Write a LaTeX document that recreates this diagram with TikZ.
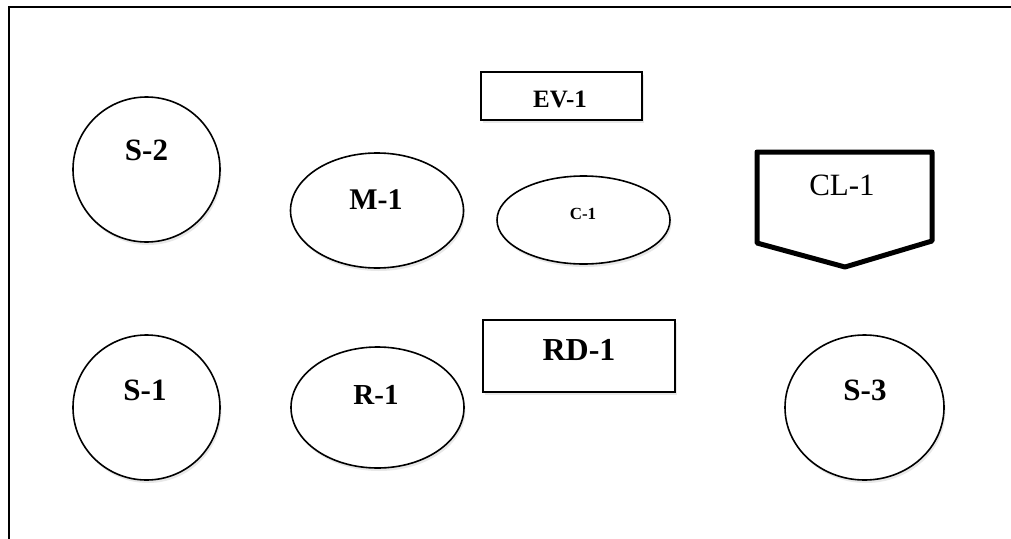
\documentclass[tikz,border=0pt]{standalone}
\usepackage{fontspec}
\setmainfont{Liberation Serif}
\usetikzlibrary{shapes.geometric,shadows}
\tikzset{
  shp/.style={draw=black, line width=1.6pt, fill=white, inner sep=0pt,
    drop shadow={opacity=0.18, shadow xshift=1.5pt, shadow yshift=-3pt}},
  ell/.style={shp, ellipse},
  box/.style={shp, rectangle},
  lbl/.style={font=\fontsize{#1}{#1}\selectfont\bfseries, inner sep=0pt},
}
\begin{document}
\begin{tikzpicture}[x=1pt,y=-1pt]
\useasboundingbox (0,0) rectangle (1011,538);
% frame
\coordinate (fbl) at (9,540);
\coordinate (ftl) at (9,7);
\coordinate (ftr) at (1012,7);
\draw[line width=1.8pt] (fbl) -- (ftl) -- (ftr);

% shapes
\node[ell, minimum width=147pt, minimum height=145pt] (s2) at (146.5,169.5) {};
\node[ell, minimum width=147pt, minimum height=145pt] (s1) at (146.5,407.5) {};
\node[ell, minimum width=159pt, minimum height=145pt] (s3) at (864.5,407.5) {};
\node[ell, minimum width=173pt, minimum height=115pt] (m1) at (377,210.5) {};
\node[ell, minimum width=173pt, minimum height=121pt] (r1) at (377.5,407.5) {};
\node[ell, minimum width=173pt, minimum height=88pt] (c1) at (583.5,220) {};
\node[box, minimum width=161pt, minimum height=48pt] (ev1) at (561.5,96) {};
\node[box, minimum width=192pt, minimum height=72pt] (rd1) at (579,356) {};

% CL-1 pentagon
\coordinate (cla) at (757,152);
\coordinate (clb) at (932,152);
\coordinate (clc) at (932,241);
\coordinate (cld) at (845,267);
\coordinate (cle) at (757,243);
\draw[line width=5pt, line join=round, fill=white] (cla) -- (clb) -- (clc) -- (cld) -- (cle) -- cycle;

% labels
\node[lbl=31] (s2t) at (146.5,150) {S-2};
\node[lbl=31] (s1t) at (145,390) {S-1};
\node[lbl=31] (s3t) at (865,390) {S-3};
\node[lbl=30] (m1t) at (376,200) {M-1};
\node[lbl=29] (r1t) at (376,395) {R-1};
\node[lbl=17] (c1t) at (583,214) {C-1};
\node[lbl=25] (ev1t) at (560,99) {EV-1};
\node[lbl=32] (rd1t) at (579,350) {RD-1};
\node[font=\fontsize{31}{31}\selectfont, inner sep=0pt] (cl1t) at (842,185) {CL-1};
\end{tikzpicture}
\end{document}
